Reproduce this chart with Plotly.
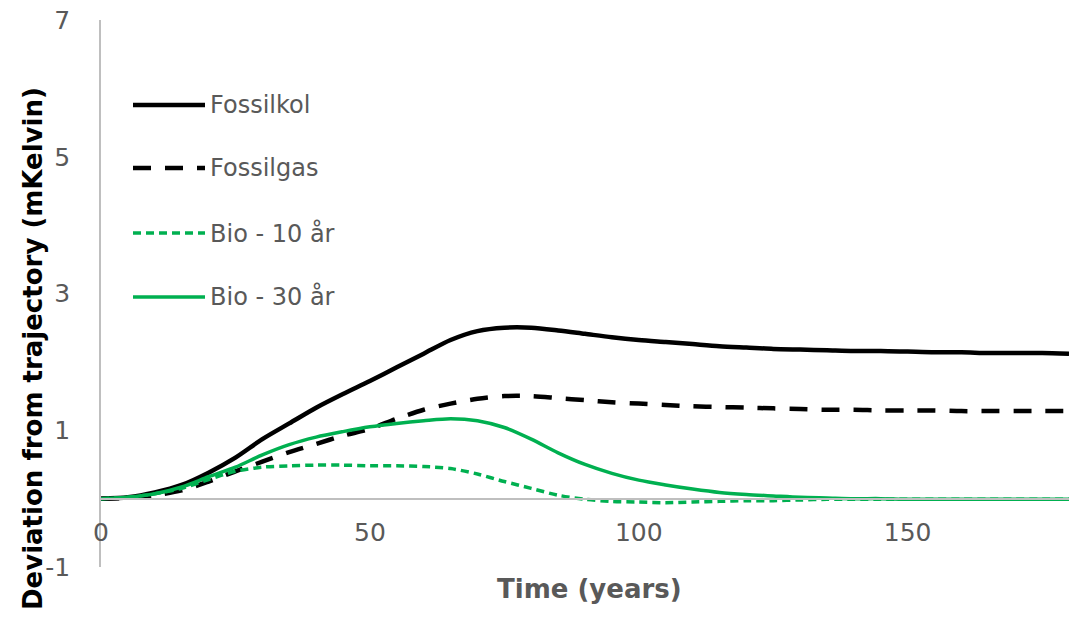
import plotly.graph_objects as go

years = list(range(0, 185, 5))

fossilkol = [0.00, 0.02, 0.09, 0.20, 0.38, 0.60, 0.87, 1.10, 1.33, 1.53, 1.72, 1.92, 2.12, 2.32, 2.45, 2.50,
             2.50, 2.46, 2.41, 2.36, 2.32, 2.29, 2.26, 2.23, 2.21, 2.19, 2.18, 2.17, 2.16, 2.16, 2.15,
             2.14, 2.14, 2.13, 2.13, 2.13, 2.12]
fossilgas = [0.00, 0.01, 0.05, 0.12, 0.25, 0.40, 0.54, 0.68, 0.80, 0.92, 1.02, 1.17, 1.30, 1.39, 1.46, 1.50,
             1.50, 1.47, 1.44, 1.41, 1.39, 1.37, 1.35, 1.34, 1.33, 1.32, 1.31, 1.30, 1.30, 1.29, 1.29,
             1.29, 1.28, 1.28, 1.28, 1.28, 1.28]
bio10 = [0.00, 0.02, 0.07, 0.15, 0.28, 0.40, 0.46, 0.48, 0.49, 0.49, 0.48, 0.48, 0.47, 0.44, 0.36, 0.25,
         0.15, 0.05, -0.01, -0.04, -0.05, -0.06, -0.05, -0.04, -0.03, -0.03, -0.02, -0.01, -0.01, -0.01, -0.01,
         -0.01, -0.01, -0.01, -0.01, -0.01, -0.01]
bio30 = [0.00, 0.02, 0.07, 0.17, 0.32, 0.46, 0.64, 0.79, 0.90, 0.98, 1.05, 1.10, 1.14, 1.17, 1.14, 1.04,
         0.87, 0.67, 0.50, 0.37, 0.27, 0.20, 0.14, 0.09, 0.06, 0.04, 0.02, 0.01, 0.00, 0.00, -0.01,
         -0.01, -0.01, -0.01, -0.01, -0.01, -0.01]

series_names = ["Fossilkol", "Fossilgas", "Bio - 10 år", "Bio - 30 år"]
x_ticks = [0, 50, 100, 150]
y_ticks = [-1, 1, 3, 5, 7]
y_tick_text = ["-1", "1", "3", "5", "7"]

GREEN = "#00B050"
FONT = "DejaVu Sans"
GRAY_TXT = "#595959"
AXIS = "#BFBFBF"

styles = [
    dict(color="black", width=4.5, dash="solid"),
    dict(color="black", width=4.5, dash="18px,14px"),
    dict(color=GREEN, width=3.5, dash="8px,5px"),
    dict(color=GREEN, width=3.5, dash="solid"),
]
data = [fossilkol, fossilgas, bio10, bio30]

fig = go.Figure()
for name, ys, st in zip(series_names, data, styles):
    fig.add_trace(go.Scatter(x=years, y=ys, name=name, mode="lines",
                             line=dict(shape="spline", smoothing=0.8, **st),
                             showlegend=False))

W, H = 1072, 622
L, R, T, B = 101, 3, 20, 55
pw, ph = W - L - R, H - T - B

def px2paper(px, py):
    return (px - L) / pw, (H - B - py) / ph

legend_rows = [105, 168, 233, 297]
shapes = []
annotations = []
for name, st, row in zip(series_names, styles, legend_rows):
    x0, y0 = px2paper(133, row)
    x1, _ = px2paper(205, row)
    shapes.append(dict(type="line", xref="paper", yref="paper", x0=x0, x1=x1, y0=y0, y1=y0,
                       line=dict(color=st["color"], width=st["width"], dash=st["dash"])))
    tx, _ = px2paper(208, row)
    annotations.append(dict(xref="paper", yref="paper", x=tx, y=y0, text=name, showarrow=False,
                            xanchor="left", yanchor="middle",
                            font=dict(family=FONT, size=24, color=GRAY_TXT)))

yx, yy = px2paper(33, 349)
annotations.append(dict(xref="paper", yref="paper", x=yx, y=yy, text="<b>Deviation from trajectory (mKelvin)</b>",
                        showarrow=False, textangle=-90, xanchor="center", yanchor="middle",
                        font=dict(family=FONT, size=26, color="black")))
tx, ty = px2paper(589, 589)
annotations.append(dict(xref="paper", yref="paper", x=tx, y=ty, text="<b>Time (years)</b>",
                        showarrow=False, xanchor="center", yanchor="middle",
                        font=dict(family=FONT, size=26, color=GRAY_TXT)))

fig.update_layout(
    width=W, height=H,
    margin=dict(l=L, r=R, t=T, b=B, autoexpand=False),
    paper_bgcolor="white", plot_bgcolor="white",
    showlegend=False,
    shapes=shapes, annotations=annotations,
    xaxis=dict(range=[0, 180], tickvals=x_ticks, showgrid=False, zeroline=False,
               showline=True, linecolor=AXIS, linewidth=1.5,
               anchor="free", position=0.125, ticks="", automargin=False,
               ticklabelstandoff=12,
               tickfont=dict(family=FONT, size=25, color=GRAY_TXT)),
    yaxis=dict(range=[-1, 7], tickvals=y_ticks, ticktext=y_tick_text, showgrid=False, zeroline=False,
               showline=True, linecolor=AXIS, linewidth=1.5, ticks="", automargin=False,
               ticklabelstandoff=24,
               tickfont=dict(family=FONT, size=25, color=GRAY_TXT)),
)

fig.write_html("out.html", config={"displayModeBar": False},
               post_script="document.body.style.margin='0';")
